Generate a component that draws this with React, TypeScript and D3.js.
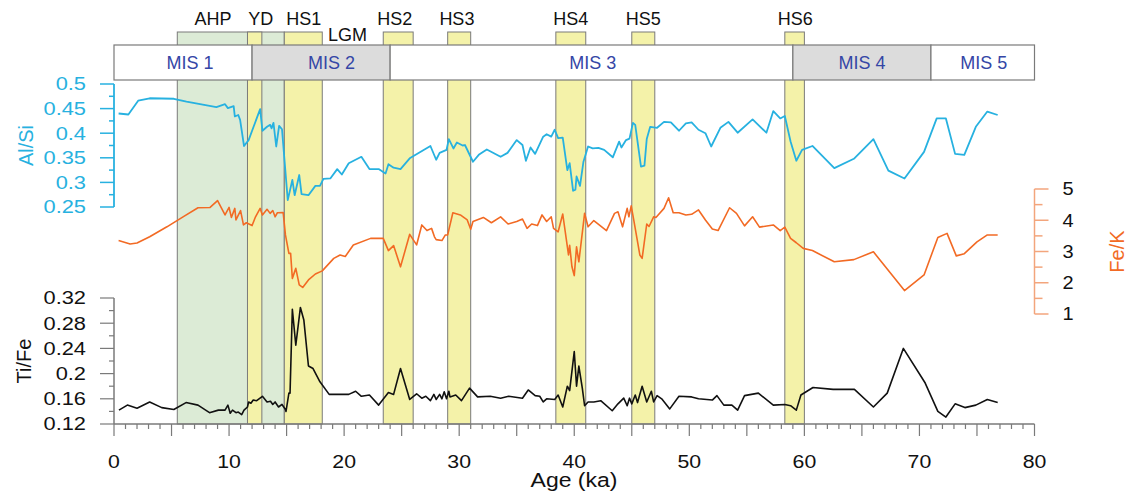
import React from "react";
import * as d3 from "d3";

// ---------- data ----------
const alSi: [number, number][] = [
  [0.4,0.440],[1.25,0.438],[2.1,0.466],[3.1,0.471],[5.2,0.470],[6.3,0.464],[8.9,0.453],[9.65,0.459],[9.9,0.451],[10.4,0.455],[10.5,0.434],[10.8,0.437],[10.96,0.427],[11.3,0.374],[11.7,0.386],[12.7,0.449],[12.9,0.405],[13.3,0.413],[13.57,0.417],[13.7,0.410],[13.86,0.421],[14.1,0.373],[14.35,0.415],[14.6,0.408],[15.1,0.264],[15.5,0.305],[15.7,0.274],[16.1,0.315],[16.3,0.276],[16.9,0.274],[17.5,0.293],[17.9,0.293],[18.2,0.307],[18.8,0.308],[19.4,0.327],[19.8,0.316],[20.4,0.339],[21.5,0.352],[22.2,0.327],[23.0,0.327],[23.6,0.318],[23.85,0.337],[24.3,0.330],[24.9,0.327],[25.7,0.349],[27.5,0.374],[28.0,0.346],[28.3,0.360],[28.9,0.366],[29.1,0.388],[29.5,0.369],[29.8,0.381],[30.3,0.375],[30.5,0.376],[31.2,0.342],[31.7,0.356],[32.4,0.367],[33.6,0.352],[34.2,0.360],[35.0,0.386],[35.5,0.376],[35.8,0.344],[36.2,0.371],[36.6,0.358],[37.3,0.393],[37.6,0.398],[38.0,0.393],[38.3,0.407],[38.6,0.390],[39.0,0.391],[39.4,0.325],[39.6,0.339],[39.9,0.283],[40.1,0.285],[40.2,0.312],[40.5,0.293],[40.8,0.342],[41.2,0.373],[41.6,0.369],[42.1,0.370],[42.6,0.366],[43.35,0.351],[43.9,0.383],[44.1,0.371],[44.5,0.386],[44.8,0.389],[45.1,0.421],[45.3,0.417],[45.8,0.332],[46.1,0.334],[46.3,0.388],[46.6,0.413],[47.2,0.411],[47.8,0.423],[48.4,0.422],[49.1,0.405],[49.7,0.420],[50.2,0.422],[50.8,0.407],[51.4,0.400],[51.9,0.373],[52.7,0.411],[53.4,0.423],[54.2,0.401],[55.5,0.428],[56.7,0.401],[57.3,0.445],[57.9,0.430],[58.3,0.435],[58.8,0.383],[59.3,0.344],[59.8,0.366],[60.7,0.374],[62.6,0.329],[64.3,0.348],[66.0,0.388],[67.3,0.324],[68.7,0.308],[70.4,0.362],[71.5,0.430],[72.3,0.430],[73.1,0.358],[73.9,0.356],[74.9,0.413],[75.9,0.444],[76.8,0.437],
];

const feK: [number, number][] = [
  [0.4,3.35],[1.4,3.24],[2.0,3.27],[3.1,3.47],[4.6,3.79],[6.0,4.11],[7.3,4.40],[8.35,4.41],[9.0,4.63],[9.65,4.17],[10.0,4.41],[10.2,4.09],[10.5,4.38],[10.6,4.01],[11.0,4.31],[11.25,3.85],[11.5,3.92],[12.0,3.83],[12.3,4.11],[12.7,4.38],[12.9,4.17],[13.3,4.35],[13.57,4.22],[13.8,4.31],[14.0,4.11],[14.2,4.24],[14.7,4.25],[14.9,3.53],[15.2,2.94],[15.35,2.94],[15.5,2.14],[15.8,2.46],[16.1,1.93],[16.4,1.85],[16.9,2.09],[17.5,2.28],[18.1,2.38],[19.1,2.78],[19.65,2.89],[20.1,2.84],[20.8,3.21],[22.3,3.42],[23.4,3.42],[23.85,3.03],[24.3,3.19],[24.9,2.51],[25.7,3.55],[26.3,3.21],[26.75,3.85],[27.2,3.67],[27.6,3.74],[27.85,3.47],[28.0,3.38],[28.5,3.35],[28.8,3.53],[29.0,3.53],[29.45,4.24],[30.1,4.17],[30.7,4.01],[31.0,3.71],[31.2,3.96],[32.1,4.09],[32.8,3.92],[33.6,4.11],[34.25,3.88],[35.0,3.96],[35.5,4.04],[35.9,3.74],[36.3,3.88],[36.8,3.83],[37.2,4.17],[37.6,3.96],[38.0,4.11],[38.2,3.74],[38.6,3.63],[39.0,4.2],[39.5,2.89],[39.6,3.2],[39.8,2.51],[40.0,2.23],[40.2,3.15],[40.4,2.67],[40.9,4.22],[41.2,3.79],[41.7,3.99],[42.8,3.67],[43.5,4.22],[43.8,4.27],[44.2,3.79],[44.6,4.38],[44.75,4.11],[44.95,4.46],[45.2,3.95],[45.7,2.89],[45.9,2.78],[46.3,3.88],[46.5,3.8],[46.9,4.11],[47.1,4.09],[47.8,4.38],[48.2,4.72],[48.6,4.24],[49.1,4.24],[49.7,4.17],[50.2,4.19],[50.8,4.33],[51.4,4.01],[52.0,3.72],[52.5,3.67],[53.5,4.40],[54.1,4.22],[54.8,3.82],[55.5,4.11],[56.1,3.78],[57.3,3.85],[57.9,3.67],[58.3,3.78],[58.8,3.42],[59.3,3.28],[59.9,3.10],[60.7,3.03],[62.6,2.67],[64.3,2.74],[66.0,2.99],[68.7,1.75],[70.4,2.25],[71.6,3.45],[72.4,3.58],[73.2,2.86],[73.9,2.93],[75.0,3.31],[75.9,3.53],[76.8,3.53],
];

const tiFe: [number, number][] = [
  [0.43,0.142],[1.16,0.150],[2.0,0.145],[3.1,0.155],[4.15,0.146],[5.2,0.143],[6.26,0.154],[7.3,0.150],[8.3,0.138],[9.07,0.142],[9.65,0.142],[9.9,0.150],[10.1,0.137],[10.3,0.142],[10.6,0.138],[10.8,0.139],[11.1,0.135],[11.3,0.142],[11.6,0.147],[11.7,0.155],[11.9,0.153],[12.1,0.158],[12.4,0.157],[12.9,0.164],[13.3,0.155],[13.6,0.156],[13.8,0.151],[14.0,0.155],[14.3,0.147],[14.6,0.151],[14.9,0.143],[14.95,0.140],[15.2,0.169],[15.3,0.169],[15.5,0.302],[15.8,0.245],[16.2,0.305],[16.5,0.285],[16.9,0.212],[17.3,0.208],[17.9,0.187],[18.7,0.167],[20.4,0.167],[21.0,0.172],[21.5,0.164],[22.2,0.166],[23.0,0.150],[23.85,0.170],[24.3,0.167],[24.9,0.208],[25.7,0.159],[26.3,0.168],[26.75,0.161],[27.1,0.164],[27.5,0.157],[27.8,0.167],[28.0,0.159],[28.3,0.167],[28.5,0.160],[28.7,0.171],[28.9,0.160],[29.1,0.172],[29.2,0.163],[29.7,0.166],[30.2,0.157],[30.9,0.177],[31.6,0.163],[32.7,0.164],[33.6,0.161],[34.3,0.164],[35.5,0.161],[36.0,0.174],[36.6,0.165],[37.0,0.164],[37.3,0.155],[37.6,0.160],[38.3,0.159],[38.6,0.166],[39.0,0.147],[39.4,0.180],[39.6,0.173],[40.0,0.235],[40.2,0.180],[40.4,0.212],[40.7,0.177],[40.9,0.149],[41.2,0.155],[41.7,0.155],[42.3,0.157],[43.3,0.141],[43.8,0.152],[44.3,0.161],[44.6,0.149],[44.8,0.161],[45.0,0.152],[45.3,0.166],[45.5,0.154],[45.9,0.180],[46.3,0.155],[46.7,0.172],[46.9,0.155],[47.2,0.165],[47.6,0.160],[48.3,0.144],[49.1,0.164],[50.2,0.163],[50.8,0.160],[52.0,0.158],[52.4,0.165],[53.0,0.150],[53.7,0.150],[54.2,0.142],[54.8,0.165],[56.0,0.169],[57.3,0.150],[58.3,0.151],[58.8,0.149],[59.3,0.142],[59.7,0.166],[60.75,0.178],[62.5,0.175],[64.35,0.175],[66.0,0.147],[67.2,0.169],[68.6,0.240],[70.5,0.185],[71.6,0.140],[72.3,0.131],[73.1,0.152],[73.95,0.146],[74.9,0.150],[75.9,0.159],[76.8,0.154],
];

// climate event bands: [name, start ka, end ka, label position ka]
const greenBands: [string, number, number, number][] = [["AHP", 5.5, 14.8, 8.6]];
const yellowBands: [string, number, number, number][] = [
  ["YD", 11.6, 12.85, 12.75],
  ["HS1", 14.8, 18.1, 16.5],
  ["HS2", 23.4, 26.0, 24.4],
  ["HS3", 29.0, 31.0, 29.8],
  ["HS4", 38.4, 41.0, 39.7],
  ["HS5", 45.0, 47.0, 46.0],
  ["HS6", 58.3, 60.0, 59.2],
];
const lgmLabel: [string, number] = ["LGM", 20.3];

// marine isotope stages: [name, start, end, shaded, label position ka]
const misStages: [string, number, number, boolean, number][] = [
  ["MIS 1", 0, 12, false, 6.6],
  ["MIS 2", 12, 24, true, 18.9],
  ["MIS 3", 24, 59, false, 41.6],
  ["MIS 4", 59, 71, true, 65.0],
  ["MIS 5", 71, 80, false, 75.6],
];

const xTickLabels = [0, 10, 20, 30, 40, 50, 60, 70, 80];
const alSiTicks = [0.25, 0.3, 0.35, 0.4, 0.45, 0.5];
const alSiTickLabels = ["0.25", "0.3", "0.35", "0.4", "0.45", "0.5"];
const alSiMinor = [0.275, 0.325, 0.375, 0.425, 0.475];
const feKTicks = [1, 2, 3, 4, 5];
const feKMinor = [1.5, 2.5, 3.5, 4.5];
const tiFeTicks = [0.12, 0.16, 0.2, 0.24, 0.28, 0.32];
const tiFeTickLabels = ["0.12", "0.16", "0.2", "0.24", "0.28", "0.32"];
const tiFeMinor = [0.14, 0.18, 0.22, 0.26, 0.3];

// ---------- styles ----------
const FONT = "'Liberation Sans', Arial, Helvetica, sans-serif";
const CYAN = "#27b1e0";
const ORANGE = "#f26a24";
const ORANGE_AXIS = "#f3a57c";
const GREY = "#7a7a7a";
const YELLOW = "#f4f2a9";
const GREEN = "#dcebd6";
const MIS_BLUE = "#3446a6";

// text drawn with a slight horizontal stretch, as in the source figure
function SText(props: { x: number; y: number; sx?: number; size: number; fill: string; anchor: string; dy?: string; children: React.ReactNode }) {
  const { x, y, sx = 1.15, size, fill, anchor, dy, children } = props;
  return (
    <g transform={`translate(${x},${y}) scale(${sx},1)`}>
      <text x={0} y={0} dy={dy} textAnchor={anchor} fontSize={size} fill={fill}>{children}</text>
    </g>
  );
}

export default function App() {
  const W = 1130, H = 497;
  const x = d3.scaleLinear().domain([0, 80]).range([114, 1034.5]);
  const yAl = d3.scaleLinear().domain([0.25, 0.5]).range([207, 84]);
  const yFe = d3.scaleLinear().domain([1, 5]).range([314, 189]);
  const yTi = d3.scaleLinear().domain([0.12, 0.32]).range([424, 298]);

  const bandTop = 32, bandBottom = yTi(0.12);
  const misTop = 45, misBottom = 80;

  const lineAl = d3.line<[number, number]>().x(d => x(d[0])).y(d => yAl(d[1]));
  const lineFe = d3.line<[number, number]>().x(d => x(d[0])).y(d => yFe(d[1]));
  const lineTi = d3.line<[number, number]>().x(d => x(d[0])).y(d => yTi(d[1]));

  const xMinor = d3.range(0, 81, 1);
  const x0 = x(0);
  const xr = x(80);

  return (
    <svg width={W} height={H} style={{ position: "absolute", left: 0, top: 0, display: "block", background: "#fff" }} fontFamily={FONT}>
      {/* bands */}
      {greenBands.map(([n, a, b]) => (
        <rect key={n} x={x(a)} y={bandTop} width={x(b) - x(a)} height={bandBottom - bandTop} fill={GREEN} stroke={GREY} strokeWidth={1} />
      ))}
      {yellowBands.map(([n, a, b]) => (
        <rect key={n} x={x(a)} y={bandTop} width={x(b) - x(a)} height={bandBottom - bandTop} fill={YELLOW} stroke={GREY} strokeWidth={1} />
      ))}
      {/* band labels */}
      {[...greenBands, ...yellowBands].map(([n, , , l]) => (
        <text key={"l" + n} x={x(l)} y={25} textAnchor="middle" fontSize={18} fill="#111">{n}</text>
      ))}
      <text x={x(lgmLabel[1])} y={41} textAnchor="middle" fontSize={18} fill="#111">{lgmLabel[0]}</text>

      {/* MIS bar */}
      {misStages.map(([n, a, b, shaded, l]) => (
        <g key={n}>
          <rect x={x(a)} y={misTop} width={x(b) - x(a)} height={misBottom - misTop} fill={shaded ? "#dcdcdc" : "#ffffff"} stroke={GREY} strokeWidth={1.2} />
          <text x={x(l)} y={(misTop + misBottom) / 2} dy="0.35em" textAnchor="middle" fontSize={18} fill={MIS_BLUE}>{n}</text>
        </g>
      ))}

      {/* series */}
      <path d={lineAl(alSi) || ""} fill="none" stroke={CYAN} strokeWidth={1.8} strokeLinejoin="round" />
      <path d={lineFe(feK) || ""} fill="none" stroke={ORANGE} strokeWidth={1.6} strokeLinejoin="round" />
      <path d={lineTi(tiFe) || ""} fill="none" stroke="#111" strokeWidth={1.6} strokeLinejoin="round" />

      {/* X axis */}
      <line x1={x0} x2={xr} y1={bandBottom} y2={bandBottom} stroke={GREY} strokeWidth={1.5} />
      {xMinor.map(v => (
        <line key={"xt" + v} x1={x(v)} x2={x(v)} y1={bandBottom} y2={bandBottom + (v % 5 === 0 ? 12 : 5)} stroke={GREY} strokeWidth={1.2} />
      ))}
      {xTickLabels.map(v => (
        <SText key={"xl" + v} x={x(v)} y={468} size={18.5} fill="#111" anchor="middle">{v}</SText>
      ))}
      <SText x={574} y={487} size={19.5} sx={1.18} fill="#111" anchor="middle">Age (ka)</SText>

      {/* Al/Si axis */}
      <line x1={x0} x2={x0} y1={yAl(0.5)} y2={yAl(0.25)} stroke={CYAN} strokeWidth={1.8} />
      {alSiTicks.map((v, i) => (
        <g key={"al" + v}>
          <line x1={x0 - 14} x2={x0} y1={yAl(v)} y2={yAl(v)} stroke={CYAN} strokeWidth={1.5} />
          <SText x={86} y={yAl(v)} dy="0.35em" sx={1.18} size={18.5} fill={CYAN} anchor="end">{alSiTickLabels[i]}</SText>
        </g>
      ))}
      {alSiMinor.map(v => (
        <line key={"alm" + v} x1={x0 - 5} x2={x0} y1={yAl(v)} y2={yAl(v)} stroke={CYAN} strokeWidth={1.5} />
      ))}
      <text transform={`translate(26,${(yAl(0.5) + yAl(0.25)) / 2}) rotate(-90)`} dy="0.35em" textAnchor="middle" fontSize={20} fill={CYAN}>Al/Si</text>

      {/* Fe/K axis (right) */}
      <line x1={xr} x2={xr} y1={yFe(5)} y2={yFe(1)} stroke={ORANGE_AXIS} strokeWidth={1.5} />
      {feKTicks.map(v => (
        <g key={"fe" + v}>
          <line x1={xr} x2={xr + 14} y1={yFe(v)} y2={yFe(v)} stroke={ORANGE_AXIS} strokeWidth={1.5} />
          <SText x={xr + 28} y={yFe(v)} dy="0.35em" sx={1.08} size={18.5} fill="#111" anchor="start">{v}</SText>
        </g>
      ))}
      {feKMinor.map(v => (
        <line key={"fem" + v} x1={xr} x2={xr + 8} y1={yFe(v)} y2={yFe(v)} stroke={ORANGE_AXIS} strokeWidth={1.5} />
      ))}
      <text transform={`translate(1117,${(yFe(5) + yFe(1)) / 2}) rotate(-90)`} dy="0.35em" textAnchor="middle" fontSize={20} fill={ORANGE}>Fe/K</text>

      {/* Ti/Fe axis */}
      <line x1={x0} x2={x0} y1={yTi(0.32)} y2={yTi(0.12)} stroke={GREY} strokeWidth={1.5} />
      {tiFeTicks.map((v, i) => (
        <g key={"ti" + v}>
          <line x1={x0 - 14} x2={x0} y1={yTi(v)} y2={yTi(v)} stroke={GREY} strokeWidth={1.2} />
          <SText x={86} y={yTi(v)} dy="0.35em" sx={1.18} size={18.5} fill="#111" anchor="end">{tiFeTickLabels[i]}</SText>
        </g>
      ))}
      {tiFeMinor.map(v => (
        <line key={"tim" + v} x1={x0 - 5} x2={x0} y1={yTi(v)} y2={yTi(v)} stroke={GREY} strokeWidth={1.2} />
      ))}
      <text transform={`translate(24,${(yTi(0.32) + yTi(0.12)) / 2}) rotate(-90)`} dy="0.35em" textAnchor="middle" fontSize={20} fill="#111">Ti/Fe</text>
    </svg>
  );
}
